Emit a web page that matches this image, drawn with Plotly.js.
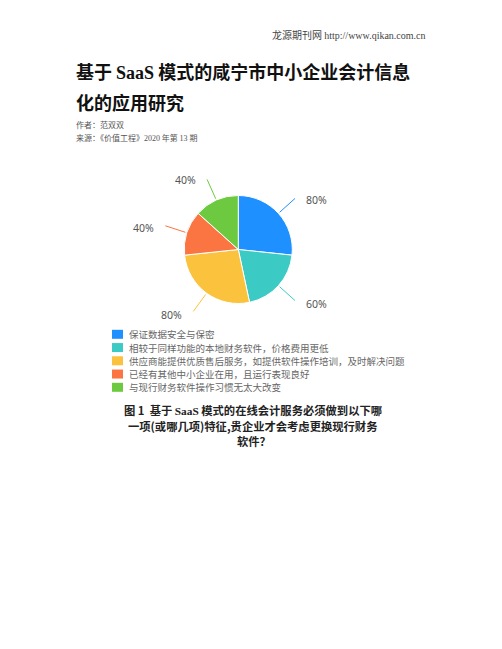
<!DOCTYPE html>
<html>
<head>
<meta charset="utf-8">
<script src="https://cdn.plot.ly/plotly-3.0.1.min.js"></script>
<style>html,body{margin:0;padding:0;background:#fff;}#chart{width:502px;height:649px;}</style>
</head>
<body>
<div id="chart"></div>
<script>
// ---- data ----
const labels = [
  '保证数据安全与保密',
  '相较于同样功能的本地财务软件，价格费用更低',
  '供应商能提供优质售后服务，如提供软件操作培训，及时解决问题',
  '已经有其他中小企业在用，且运行表现良好',
  '与现行财务软件操作习惯无太大改变'
];
const values = [80, 60, 80, 40, 40];
const valueLabels = ['80%', '60%', '80%', '40%', '40%'];
const colors = ['#1E90FF', '#3CCBC4', '#FBC23D', '#FA7541', '#6DC93F'];

// ---- layout constants ----
const W = 502, H = 649;
const cx = 238.3, cy = 249.5, R = 54;
const px = x => x / W;
const py = y => 1 - y / H;
const cjk = '"Noto Sans CJK SC", "Noto Sans", sans-serif';

const annotations = [];
const shapes = [];

// page text
function txt(x, y, text, size, color, anchor, family, weight) {
  annotations.push({
    xref: 'paper', yref: 'paper', x: px(x), y: py(y), text: text,
    showarrow: false, xanchor: anchor || 'left', yanchor: 'middle',
    font: {size: size, color: color, family: family || cjk, weight: weight || 'normal'}
  });
}
txt(428, 34.5, '龙源期刊网 <span style="font-family:Liberation Serif">http://www.qikan.com.cn</span>', 10, '#444', 'right');
txt(74, 70.5, '基于 <span style="font-family:Liberation Serif">SaaS</span> 模式的咸宁市中小企业会计信息', 18, '#111', 'left', cjk, 'bold');
txt(74, 101.5, '化的应用研究', 18, '#111', 'left', cjk, 'bold');
txt(74, 124.5, '作者：范双双', 8, '#555', 'left');
txt(74, 137.5, '来源：《价值工程》<span style="font-family:Liberation Serif">2020</span> 年第 <span style="font-family:Liberation Serif">13</span> 期', 8, '#555', 'left');

// caption
txt(252.5, 410, '<b>图 1</b>  基于 <span style="font-family:Liberation Serif"><b>SaaS</b></span> 模式的在线会计服务必须做到以下哪', 11.3, '#222', 'center', cjk, 'bold');
txt(252.5, 425.5, '一项(或哪几项)特征,贵企业才会考虑更换现行财务', 11.3, '#222', 'center', cjk, 'bold');
txt(253.5, 440.5, '软件？', 11.3, '#222', 'center', cjk, 'bold');

// pie labels + leader lines computed from the values
const total = values.reduce((a, b) => a + b, 0);
let cum = 0;
values.forEach((v, i) => {
  const mid = (cum + v / 2) / total * 2 * Math.PI;
  cum += v;
  const dx = Math.sin(mid), dy = -Math.cos(mid);
  const x0 = cx + R * 1.03 * dx, y0 = cy + R * 1.03 * dy;
  const x1 = cx + R * 1.45 * dx, y1 = cy + R * 1.45 * dy;
  annotations.push({
    xref: 'paper', yref: 'paper', x: px(x0), y: py(y0), text: '',
    showarrow: true, arrowhead: 0, arrowwidth: 1, arrowcolor: colors[i],
    ax: x1 - x0, ay: y1 - y0, standoff: 0, startstandoff: 0
  });
  const side = dx >= 0 ? 1 : -1;
  txt(x1 + side * 20.5, y1 + 2.5, valueLabels[i], 10.5, '#555', 'center', '"Noto Sans", sans-serif');
});

// legend
labels.forEach((l, i) => {
  const yc = 334.3 + i * 13.25;
  shapes.push({type: 'rect', xref: 'paper', yref: 'paper',
    x0: px(112), x1: px(123), y0: py(yc - 4.5), y1: py(yc + 4.5),
    fillcolor: colors[i], line: {width: 0}});
  txt(127, yc, l, 9.5, '#666', 'left');
});

const data = [{
  type: 'pie',
  labels: labels,
  values: values,
  sort: false,
  direction: 'clockwise',
  rotation: 0,
  textinfo: 'none',
  hoverinfo: 'label+value',
  marker: {colors: colors, line: {color: '#fff', width: 1}},
  domain: {x: [px(cx - R), px(cx + R)], y: [py(cy + R), py(cy - R)]},
  showlegend: false
}];

const layout = {
  width: W, height: H,
  margin: {l: 0, r: 0, t: 0, b: 0},
  paper_bgcolor: '#fff',
  showlegend: false,
  annotations: annotations,
  shapes: shapes
};

Plotly.newPlot('chart', data, layout, {displayModeBar: false, staticPlot: true});
</script>
</body>
</html>
